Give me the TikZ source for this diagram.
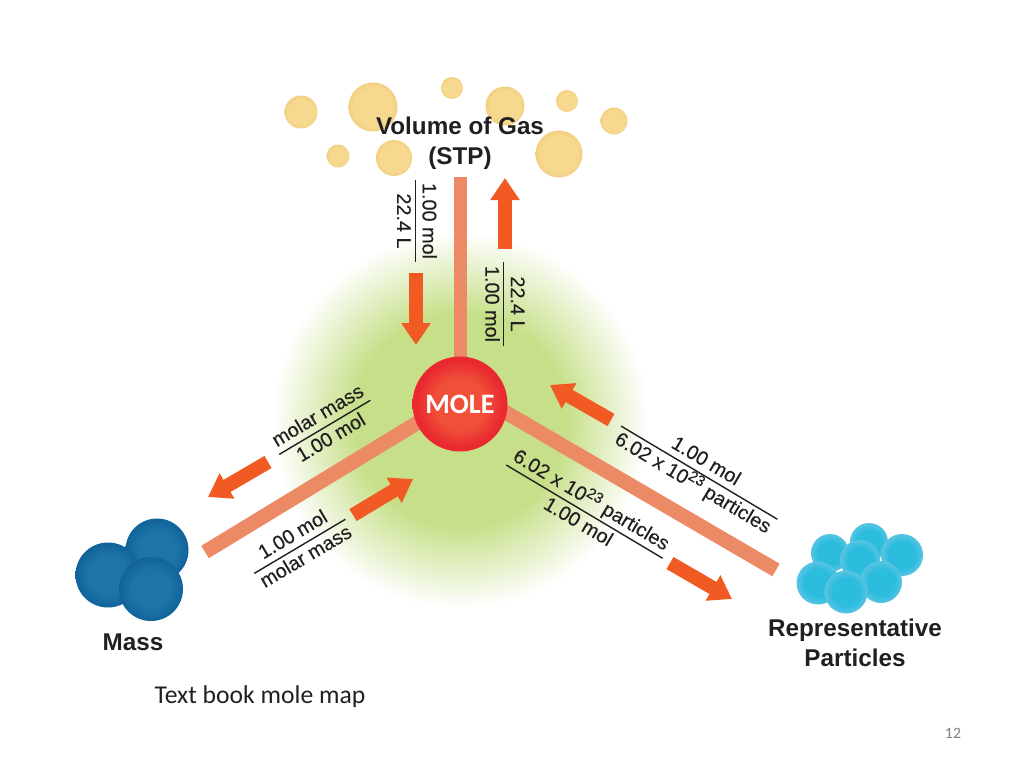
\documentclass[tikz,border=0pt]{standalone}
\usepackage{fontspec}
\setmainfont{Liberation Sans}
\newfontfamily\slidefont{Carlito}
\newfontfamily\fracfont[FakeBold=0.2]{Liberation Sans}
\usetikzlibrary{arrows.meta,backgrounds}
\definecolor{gasin}{HTML}{F6D88E}
\definecolor{gasout}{HTML}{F3CF80}
\definecolor{massin}{HTML}{1C74A8}
\definecolor{massout}{HTML}{11639A}
\definecolor{partin}{HTML}{2CBCDE}
\definecolor{partout}{HTML}{58C4E2}
\definecolor{molein}{HTML}{F0503A}
\definecolor{moleout}{HTML}{E9292F}
\definecolor{glowin}{HTML}{C6DF88}
\definecolor{barcol}{HTML}{EC8A66}
\definecolor{arrowcol}{HTML}{F15A22}
\definecolor{inkcol}{HTML}{231F20}
\pgfdeclareradialshading{gasshade}{\pgfpoint{0bp}{0bp}}{color(0bp)=(gasin); color(20bp)=(gasin); color(25bp)=(gasout); color(50bp)=(gasout)}
\pgfdeclareradialshading{massshade}{\pgfpoint{0bp}{0bp}}{color(0bp)=(massin); color(15bp)=(massin); color(25bp)=(massout); color(50bp)=(massout)}
\pgfdeclareradialshading{partshade}{\pgfpoint{0bp}{0bp}}{color(0bp)=(partin); color(16bp)=(partin); color(25bp)=(partout); color(50bp)=(partout)}
\pgfdeclareradialshading{moleshade}{\pgfpoint{0bp}{0bp}}{color(0bp)=(molein); color(13bp)=(molein); color(23bp)=(moleout); color(25bp)=(moleout); color(50bp)=(moleout)}
\pgfdeclareradialshading{glowshade}{\pgfpoint{0bp}{0bp}}{color(0bp)=(glowin); color(14bp)=(glowin); color(25bp)=(white); color(50bp)=(white)}
\tikzset{
  ball/.style={circle,inner sep=0pt,minimum size=#1*0.02cm},
  gasball/.style={ball=#1,shading=gasshade},
  massball/.style={ball=#1,shading=massshade},
  partball/.style={ball=#1,shading=partshade},
  bar/.style={barcol,line width=.29cm,shorten <=-6pt},
  convarrow/.style={arrowcol,line width=.28cm,-{Triangle[length=.44cm,width=.56cm]}},
  title/.style={font=\fontsize{13.8}{17}\selectfont\bfseries,text=inkcol,align=center,inner sep=0pt},
  fraction/.style={font=\fracfont\fontsize{11.3}{14}\selectfont,text=inkcol,align=center,inner sep=0pt}
}
\newcommand{\molfrac}[3]{#1\\[-9.5pt]\rule{#3cm}{.8pt}\\[-4pt]#2}
\newcommand{\tentothe}{10\raisebox{.35em}{\fontsize{8.5}{8.5}\selectfont 23}}
\begin{document}
\begin{tikzpicture}[x=0.02cm,y=-0.02cm]
  \useasboundingbox (0,0) rectangle (1024,768);
  \node[ball=95,shading=moleshade,font=\slidefont\fontsize{16}{16}\selectfont\bfseries,text=white] (mole) at (460,404) {MOLE};
  \foreach \x/\y/\d/\n in {301/112/33/a,373/107/49/b,452/88/22/c,505/106/39/d,567/101/22/e,614/121/27/f,338/156/23/g,394/158/36/h,559/154/47/i} {
    \node[gasball=\d] (gas\n) at (\x,\y) {};
  }
  \foreach \x/\y/\d/\n in {157/550/63/a,108/575/65/b,151/589/64/c} {
    \node[massball=\d] (mass\n) at (\x,\y) {};
  }
  \foreach \x/\y/\d/\n in {830/553/38/a,869/542/38/b,902/555/42/c,860/560/40/d,818/583/43/e,881/582/42/f,846/592/43/g} {
    \node[partball=\d] (part\n) at (\x,\y) {};
  }
  \coordinate (gasend) at (460,177);
  \coordinate (massend) at (205,552);
  \coordinate (partend) at (776,570);
  \begin{scope}[on background layer]
    \node[ball=376,shading=glowshade] (glow) at (460,420) {};
    \draw[bar,line width=.26cm] (mole.north) -- (gasend);
    \draw[bar] (mole.204) -- (massend);
    \draw[bar] (mole.-11) -- (partend);
  \end{scope}
  \foreach \xa/\ya/\xb/\yb/\n in {505/249/505/178/a,416/273/416/345/b,268/462/208/497/c,353/515/413/479/d,611/420/550/385/e,670/563/732/599/f} {
    \coordinate (tail\n) at (\xa,\ya);
    \coordinate (tip\n) at (\xb,\yb);
    \draw[convarrow] (tail\n) -- (tip\n);
  }
  \node[title] (gaslabel) at (460,143.5) {Volume of Gas\\(STP)};
  \node[title] (masslabel) at (133,642) {Mass};
  \node[title] (partlabel) at (855,643) {Representative\\Particles};
  \node[fraction,rotate=-90] (fraca) at (417,221) {\molfrac{1.00 mol}{22.4 L}{1.66}};
  \node[fraction,rotate=-90] (fracb) at (505,304) {\molfrac{22.4 L}{1.00 mol}{1.68}};
  \node[fraction,rotate=30.7] (fracc) at (324,426) {\molfrac{molar mass}{1.00 mol}{2.12}};
  \node[fraction,rotate=30.7] (fracd) at (299,545) {\molfrac{1.00 mol}{molar mass}{2.12}};
  \node[fraction,rotate=-30.8] (frace) at (699,473) {\molfrac{1.00 mol}{6.02 x \tentothe{} particles}{3.64}};
  \node[fraction,rotate=-30.8] (fracf) at (586,509) {\molfrac{6.02 x \tentothe{} particles}{1.00 mol}{3.64}};
  \node[font=\slidefont\fontsize{14.6}{16}\selectfont,text=inkcol,inner sep=0pt] (caption) at (260,697) {Text book mole map};
  \node[font=\slidefont\fontsize{9}{11}\selectfont,text=gray,inner sep=0pt] (pagenum) at (953,733) {12};
\end{tikzpicture}
\end{document}
